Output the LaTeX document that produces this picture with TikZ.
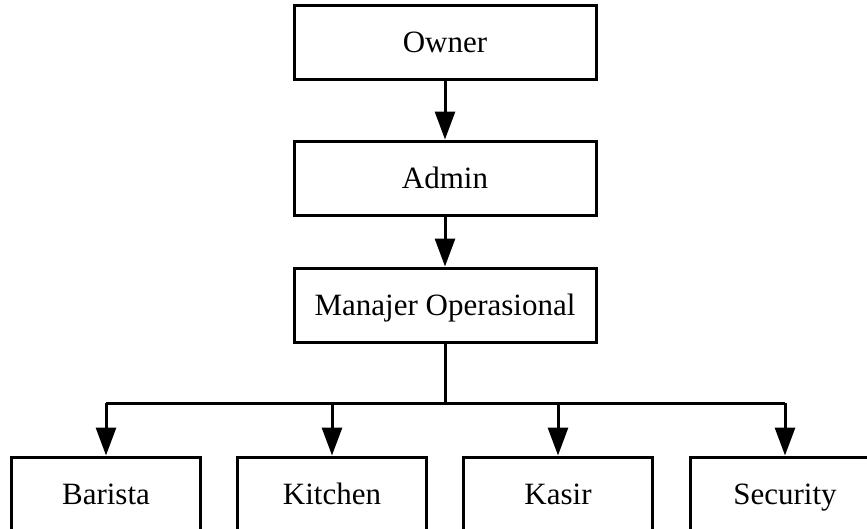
\documentclass[tikz,border=0pt]{standalone}
\usepackage{fontspec}
\setmainfont{Liberation Serif}
\usetikzlibrary{arrows.meta}
\begin{document}
\begin{tikzpicture}[x=1pt,y=-1pt,
  box/.style={draw,line width=3pt,minimum width=302pt,minimum height=74pt,inner sep=0pt,
    text height=27pt,text depth=6pt,font=\fontsize{31}{36}\selectfont},
  sbox/.style={box,minimum width=189pt},
  link/.style={line width=3pt,-{Triangle[width=20pt,length=28pt]}}]
\useasboundingbox (0,0) rectangle (867,528);
\node[box] (owner) at (445,42) {Owner};
\node[box] (admin) at (445,178) {Admin};
\node[box] (mgr) at (445,305) {Manajer Operasional};
\node[sbox] (barista) at (106,494) {Barista};
\node[sbox] (kitchen) at (332,494) {Kitchen};
\node[sbox] (kasir) at (558,494) {Kasir};
\node[sbox] (security) at (785,494) {Security};
\coordinate (bus) at (445,403);
\draw[link] (owner) -- (admin);
\draw[link] (admin) -- (mgr);
\draw[line width=3pt] (mgr.south) -- (bus);
\draw[line width=3pt] (barista.north |- bus) -- (security.north |- bus);
\foreach \n in {barista,kitchen,kasir,security}
  \draw[link] (\n.north |- bus) -- (\n.north);
\end{tikzpicture}
\end{document}
